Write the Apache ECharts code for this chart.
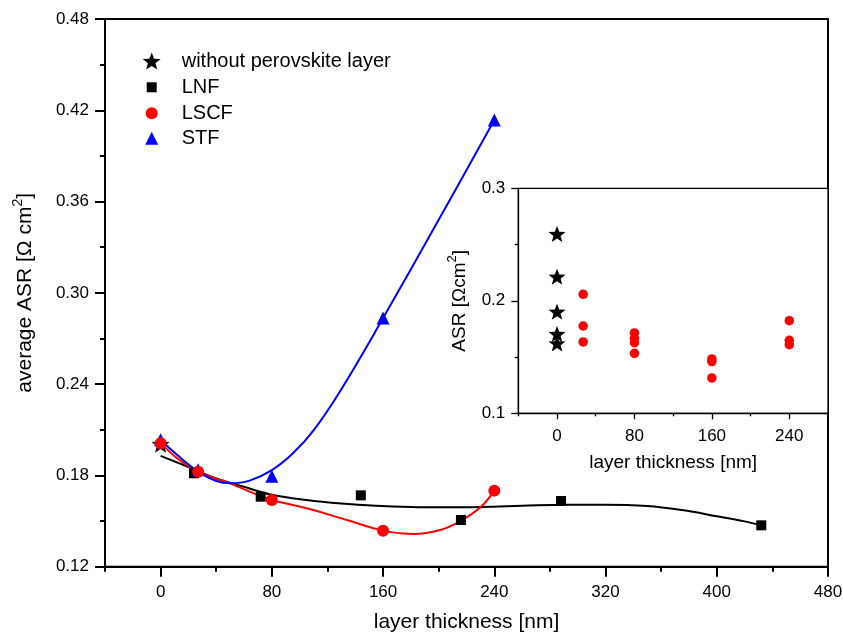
<!DOCTYPE html>
<html>
<head>
<meta charset="utf-8">
<script src="https://cdn.jsdelivr.net/npm/echarts@6/dist/echarts.min.js"></script>
<style>html,body{margin:0;padding:0;background:#fff;}#c{width:843px;height:634px;}</style>
</head>
<body>
<div id="c"></div>
<script>
// ---- data ----
const refX = [0];
const refY = [0.2006];
const lnfX = [24, 72, 144, 216, 288, 432];
const lnfY = [0.1814, 0.1660, 0.1669, 0.1507, 0.1632, 0.1472];
const lscfX = [0, 27, 80, 160, 240];
const lscfY = [0.2012, 0.1824, 0.1638, 0.1437, 0.1700];
const stfX = [0, 27, 80, 160, 240];
const stfY = [0.2035, 0.1838, 0.1794, 0.2834, 0.4136];

// fitted curves
const lnfFitX = [0, 20, 40, 60, 80, 105, 130, 155, 180, 205, 230, 260, 290, 320, 350, 375, 400, 420, 432];
const lnfFitY = [0.1928, 0.1855, 0.1780, 0.1725, 0.1673, 0.1638, 0.1615, 0.1600, 0.1592, 0.1590, 0.1592, 0.1600, 0.1608, 0.1608, 0.1599, 0.1572, 0.1532, 0.1498, 0.1472];
const lscfFitX = [0, 12, 27, 50, 64, 80, 105, 134, 160, 182, 201, 215, 230, 240];
const lscfFitY = [0.2012, 0.1912, 0.1824, 0.1748, 0.1693, 0.1638, 0.1584, 0.1507, 0.1437, 0.1415, 0.1441, 0.1496, 0.1590, 0.1700];
const stfFitX = [0, 12, 27, 40, 50, 64, 80, 95, 110, 130, 160, 200, 240];
const stfFitY = [0.2033, 0.1934, 0.1825, 0.1763, 0.1748, 0.1766, 0.1835, 0.1944, 0.2096, 0.2367, 0.2834, 0.3480, 0.4136];

// inset data
const insetRefX = [0, 0, 0, 0, 0];
const insetRefY = [0.2594, 0.2214, 0.1903, 0.1705, 0.1622];
const insetLscfX = [27, 27, 27, 80, 80, 80, 80, 160, 160, 160, 240, 240, 240];
const insetLscfY = [0.2058, 0.1776, 0.1634, 0.1714, 0.1667, 0.1628, 0.1533, 0.1483, 0.1460, 0.1314, 0.1823, 0.1649, 0.1610];

// tick labels
const mainXTicks = [0, 80, 160, 240, 320, 400, 480];
const mainXMinor = [-40, 40, 120, 200, 280, 360, 440];
const insetXTicks = [0, 80, 160, 240];
const insetXMinor = [-40, 40, 120, 200];

const names = ['without perovskite layer', 'LNF', 'LSCF', 'STF'];

const zip = (xs, ys) => xs.map((x, i) => [x, ys[i]]);
const FONT = '"Liberation Sans", Arial, sans-serif';
const STAR = 'path://M0,-100 L24.7,-34 L95.1,-30.9 L39.9,13 L58.8,80.9 L0,42 L-58.8,80.9 L-39.9,13 L-95.1,-30.9 L-24.7,-34 Z';

const chart = echarts.init(document.getElementById('c'), null, {renderer: 'canvas'});

function legendFor(name, w, top) {
  return {
    data: [name], orient: 'vertical', left: 151.7 - w / 2, top: top, padding: 0, itemGap: 0,
    itemWidth: w, itemHeight: w, selectedMode: false,
    textStyle: {fontSize: 20, fontFamily: FONT, color: '#000', lineHeight: 20, padding: [0, 0, 0, 25 - w / 2]}
  };
}

const labelStyle = {fontSize: 17, fontFamily: FONT, color: '#000'};

chart.setOption({
  backgroundColor: '#fff',
  animation: false,
  textStyle: {fontFamily: FONT},
  legend: [
    legendFor(names[0], 18, 51),
    legendFor(names[1], 10, 77.3),
    legendFor(names[2], 12, 103.3),
    legendFor(names[3], 13, 128.3)
  ],
  grid: [
    {left: 105, right: 15, top: 19, bottom: 67.3, show: true, borderColor: '#000', borderWidth: 2,
     backgroundColor: 'transparent', containLabel: false, outerBoundsMode: 'none'},
    {left: 518.3, right: 15, top: 188.3, bottom: 220.7, show: true, borderColor: '#000', borderWidth: 1.3,
     backgroundColor: '#fff', z: 5, containLabel: false, outerBoundsMode: 'none'}
  ],
  xAxis: [
    {gridIndex: 0, type: 'value', min: -40, max: 480, position: 'bottom',
     axisLine: {onZero: false, lineStyle: {color: '#000', width: 2}},
     axisTick: {customValues: mainXTicks, length: 10, lineStyle: {color: '#000', width: 2}},
     axisLabel: {customValues: mainXTicks, margin: 17, ...labelStyle},
     splitLine: {show: false},
     name: 'layer thickness [nm]', nameLocation: 'middle', nameGap: 45,
     nameTextStyle: {fontSize: 21, fontFamily: FONT, color: '#000'}},
    {gridIndex: 0, type: 'value', min: -40, max: 480, position: 'bottom',
     axisLine: {show: false, onZero: false},
     axisTick: {customValues: mainXMinor, length: 5, lineStyle: {color: '#000', width: 2}},
     axisLabel: {show: false}, splitLine: {show: false}},
    {gridIndex: 1, type: 'value', min: -40, max: 280, position: 'bottom', z: 6,
     axisLine: {onZero: false, lineStyle: {color: '#000', width: 1.3}},
     axisTick: {customValues: insetXTicks, length: 6, lineStyle: {color: '#000', width: 1.3}},
     axisLabel: {customValues: insetXTicks, margin: 15, ...labelStyle},
     splitLine: {show: false},
     name: 'layer thickness [nm]', nameLocation: 'middle', nameGap: 40,
     nameTextStyle: {fontSize: 19, fontFamily: FONT, color: '#000'}},
    {gridIndex: 1, type: 'value', min: -40, max: 280, position: 'bottom', z: 6,
     axisLine: {show: false, onZero: false},
     axisTick: {customValues: insetXMinor, length: 3, lineStyle: {color: '#000', width: 1.3}},
     axisLabel: {show: false}, splitLine: {show: false}}
  ],
  yAxis: [
    {gridIndex: 0, type: 'value', min: 0.12, max: 0.48, interval: 0.06,
     axisLine: {onZero: false, lineStyle: {color: '#000', width: 2}},
     axisTick: {length: 10, lineStyle: {color: '#000', width: 2}},
     minorTick: {show: true, splitNumber: 2, length: 5, lineStyle: {color: '#000', width: 2}},
     axisLabel: {margin: 16, formatter: v => v.toFixed(2), ...labelStyle},
     splitLine: {show: false}, minorSplitLine: {show: false},
     name: '{a|average ASR [Ω cm}{s|2}{a|]}', nameLocation: 'middle', nameGap: 66,
     nameTextStyle: {color: '#000', rich: {
       a: {fontSize: 21, fontFamily: FONT, color: '#000', lineHeight: 28},
       s: {fontSize: 14, fontFamily: FONT, color: '#000', verticalAlign: 'top', lineHeight: 16}}}},
    {gridIndex: 1, type: 'value', min: 0.1, max: 0.3, interval: 0.1, z: 6,
     axisLine: {onZero: false, lineStyle: {color: '#000', width: 1.3}},
     axisTick: {length: 7, lineStyle: {color: '#000', width: 1.3}},
     minorTick: {show: true, splitNumber: 2, length: 3.5, lineStyle: {color: '#000', width: 1.3}},
     axisLabel: {margin: 13, formatter: v => v.toFixed(1), ...labelStyle},
     splitLine: {show: false}, minorSplitLine: {show: false},
     name: '{a|ASR [Ωcm}{s|2}{a|]}', nameLocation: 'middle', nameGap: 46,
     nameTextStyle: {color: '#000', rich: {
       a: {fontSize: 19, fontFamily: FONT, color: '#000', lineHeight: 26},
       s: {fontSize: 13, fontFamily: FONT, color: '#000', verticalAlign: 'top', lineHeight: 14}}}}
  ],
  series: [
    {name: 'lnfFit', type: 'line', xAxisIndex: 0, yAxisIndex: 0, data: zip(lnfFitX, lnfFitY), smooth: 0.4,
     showSymbol: false, lineStyle: {color: '#000', width: 2}, z: 2, silent: true},
    {name: 'lscfFit', type: 'line', xAxisIndex: 0, yAxisIndex: 0, data: zip(lscfFitX, lscfFitY), smooth: 0.4,
     showSymbol: false, lineStyle: {color: '#ff0000', width: 2}, z: 2, silent: true},
    {name: 'stfFit', type: 'line', xAxisIndex: 0, yAxisIndex: 0, data: zip(stfFitX, stfFitY), smooth: 0.4,
     showSymbol: false, lineStyle: {color: '#0000ff', width: 2}, z: 2, silent: true},
    {name: names[0], type: 'scatter', xAxisIndex: 0, yAxisIndex: 0, data: zip(refX, refY),
     symbol: STAR, symbolKeepAspect: true, symbolSize: 18, itemStyle: {color: '#000', opacity: 1}, z: 3},
    {name: names[1], type: 'scatter', xAxisIndex: 0, yAxisIndex: 0, data: zip(lnfX, lnfY),
     symbol: 'rect', symbolSize: 10, itemStyle: {color: '#000', opacity: 1}, z: 3},
    {name: names[3], type: 'scatter', xAxisIndex: 0, yAxisIndex: 0, data: zip(stfX, stfY),
     symbol: 'triangle', symbolSize: 13, itemStyle: {color: '#0000ff', opacity: 1}, z: 3},
    {name: names[2], type: 'scatter', xAxisIndex: 0, yAxisIndex: 0, data: zip(lscfX, lscfY),
     symbol: 'circle', symbolSize: 12, itemStyle: {color: '#ff0000', opacity: 1}, z: 3},
    {name: 'insetRef', type: 'scatter', xAxisIndex: 2, yAxisIndex: 1, data: zip(insetRefX, insetRefY),
     symbol: STAR, symbolKeepAspect: true, symbolSize: 17, itemStyle: {color: '#000', opacity: 1}, z: 7},
    {name: 'insetLscf', type: 'scatter', xAxisIndex: 2, yAxisIndex: 1, data: zip(insetLscfX, insetLscfY),
     symbol: 'circle', symbolSize: 9.5, itemStyle: {color: '#ff0000', opacity: 1}, z: 7}
  ]
});
</script>
</body>
</html>
